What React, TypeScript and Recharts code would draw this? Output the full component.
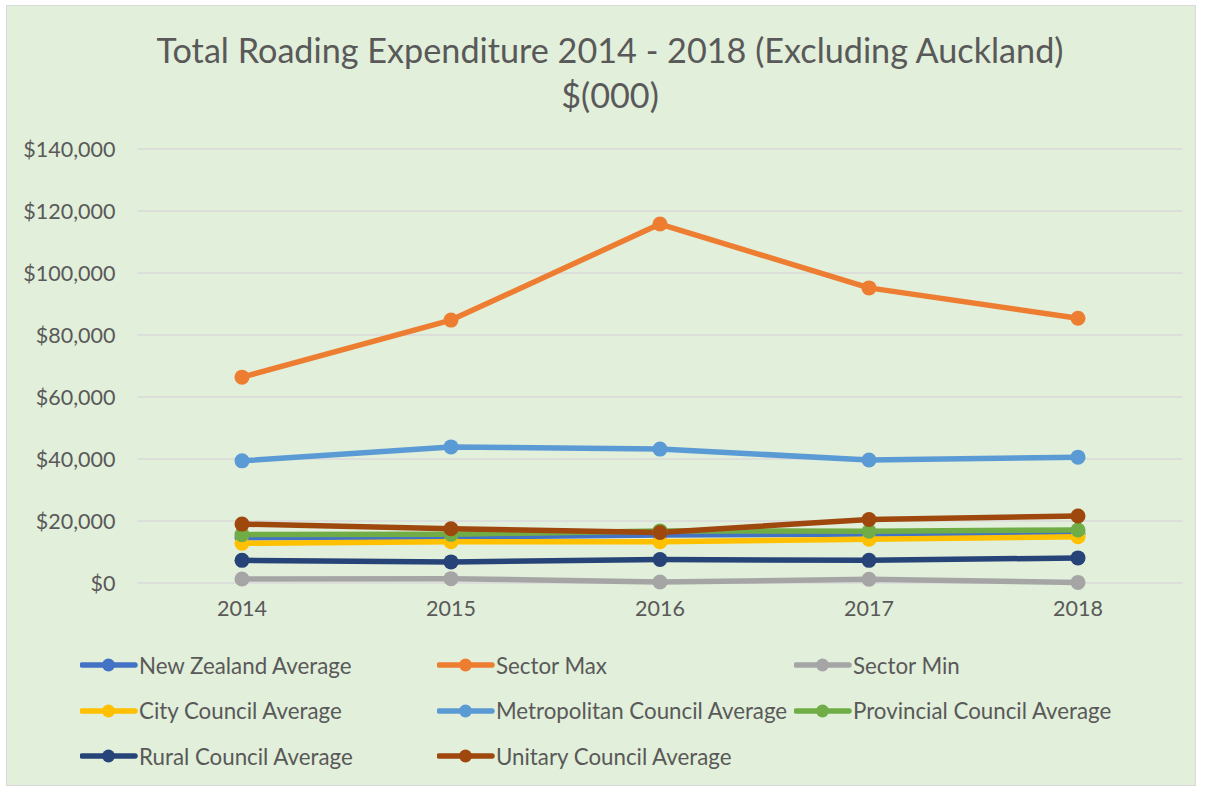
import React from 'react';
import { LineChart, Line, XAxis, YAxis, CartesianGrid, Legend } from 'recharts';

const years = ['2014', '2015', '2016', '2017', '2018'];
const nzAverage = [14600, 14800, 15500, 15800, 16000];
const sectorMax = [66400, 84800, 115800, 95200, 85400];
const sectorMin = [1300, 1400, 300, 1200, 200];
const cityAverage = [12800, 13300, 13300, 14100, 14900];
const metroAverage = [39400, 43900, 43200, 39700, 40600];
const provincialAverage = [15600, 15700, 16800, 16700, 17100];
const ruralAverage = [7300, 6800, 7600, 7300, 8100];
const unitaryAverage = [19000, 17500, 16300, 20500, 21600];
const yTicks = [0, 20000, 40000, 60000, 80000, 100000, 120000, 140000];

const series = [
  { key: 'nz', name: 'New Zealand Average', values: nzAverage, color: '#4472C4' },
  { key: 'max', name: 'Sector Max', values: sectorMax, color: '#ED7D31' },
  { key: 'min', name: 'Sector Min', values: sectorMin, color: '#A5A5A5' },
  { key: 'city', name: 'City Council Average', values: cityAverage, color: '#FFC000' },
  { key: 'metro', name: 'Metropolitan Council Average', values: metroAverage, color: '#5B9BD5' },
  { key: 'prov', name: 'Provincial Council Average', values: provincialAverage, color: '#70AD47' },
  { key: 'rural', name: 'Rural Council Average', values: ruralAverage, color: '#264478' },
  { key: 'unitary', name: 'Unitary Council Average', values: unitaryAverage, color: '#9E480E' },
];

const data = years.map((y, i) => {
  const row: Record<string, any> = { year: y };
  series.forEach((s) => (row[s.key] = s.values[i]));
  return row;
});

const FONT = 'Lato, "Open Sans", sans-serif';
const TEXT = '#595959';

const fmt = (v: number) => '$' + v.toLocaleString('en-US');

const LegendContent = () => (
  <div style={{ position: 'relative', width: 1205, height: 130, fontFamily: FONT }}>
    {series.map((s, i) => {
      const col = i % 3;
      const row = Math.floor(i / 3);
      const left = 80 + col * 357;
      const top = row * 45.5;
      return (
        <div key={s.key} style={{ position: 'absolute', left, top, height: 24, display: 'flex', alignItems: 'center' }}>
          <svg width={58} height={24} style={{ display: 'block' }}>
            <line x1={2} y1={12} x2={55} y2={12} stroke={s.color} strokeWidth={5.5} strokeLinecap="round" />
            <circle cx={28.5} cy={12} r={6.5} fill={s.color} />
          </svg>
          <span style={{ fontSize: 22.3, color: TEXT, whiteSpace: 'nowrap', marginLeft: 1 }}>{s.name}</span>
        </div>
      );
    })}
  </div>
);

export default function App() {
  return (
    <div style={{ position: 'absolute', left: 0, top: 0, width: 1205, height: 790, background: '#ffffff' }}>
      <div
        style={{
          position: 'absolute',
          left: 6,
          top: 5,
          width: 1188,
          height: 779,
          background: '#E2EFDA',
          border: '1px solid #D9D9D9',
        }}
      />
      <div
        style={{
          position: 'absolute',
          left: 0,
          top: 27,
          width: 1220,
          textAlign: 'center',
          fontFamily: FONT,
          fontSize: 34.2,
          lineHeight: '45px',
          color: TEXT,
        }}
      >
        <div>Total Roading Expenditure 2014 - 2018 (Excluding Auckland)</div>
        <div>$(000)</div>
      </div>
      <div style={{ position: 'absolute', left: 0, top: 0 }}>
        <LineChart width={1205} height={790} data={data} margin={{ top: 149, right: 22.5, bottom: 167, left: 0 }}>
          <CartesianGrid horizontal vertical={false} stroke="#D9D9D9" strokeWidth={1.5} />
          <XAxis
            dataKey="year"
            height={40}
            axisLine={false}
            tickLine={false}
            tickSize={0}
            tickMargin={18}
            padding={{ left: 104.5, right: 104.5 }}
            tick={{ fill: TEXT, fontSize: 21.5, fontFamily: FONT }}
          />
          <YAxis
            width={137.5}
            domain={[0, 140000]}
            ticks={yTicks}
            axisLine={false}
            tickLine={false}
            tickSize={0}
            tickMargin={22}
            tickFormatter={fmt}
            tick={{ fill: TEXT, fontSize: 21.5, fontFamily: FONT }}
          />
          <Legend
            layout="horizontal"
            verticalAlign="middle"
            align="center"
            wrapperStyle={{ top: 653, left: 0, width: 1205 }}
            content={() => <LegendContent />}
          />
          {series.map((s) => (
            <Line
              key={s.key}
              dataKey={s.key}
              name={s.name}
              stroke={s.color}
              strokeWidth={5.5}
              strokeLinejoin="round"
              strokeLinecap="round"
              dot={{ r: 7.5, fill: s.color, stroke: s.color, strokeWidth: 0 }}
              activeDot={false}
              isAnimationActive={false}
            />
          ))}
        </LineChart>
      </div>
    </div>
  );
}
